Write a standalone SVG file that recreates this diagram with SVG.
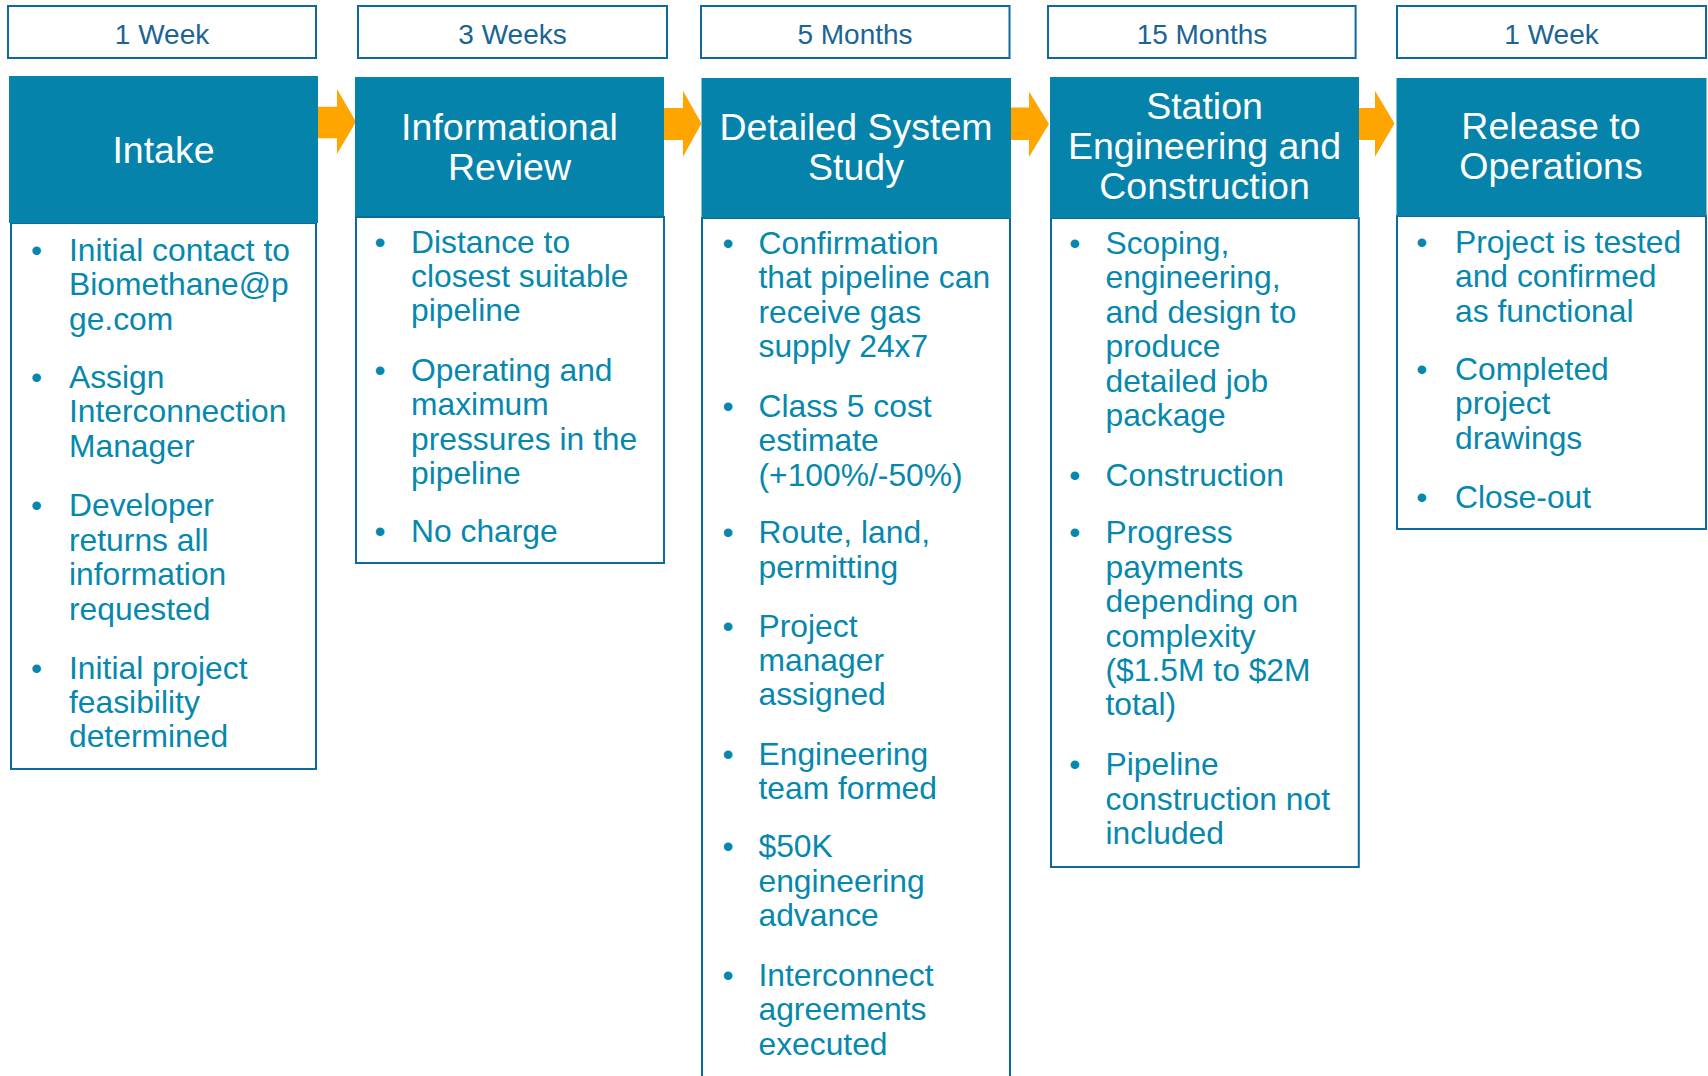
<svg xmlns="http://www.w3.org/2000/svg" width="1708" height="1076" viewBox="0 0 1708 1076">
<style>
.dur{fill:#fff;stroke:#0E6A9C;stroke-width:2}
.durt{font-family:"Liberation Sans",Arial,sans-serif;font-size:28px;fill:#1B6495;text-anchor:middle}
.box{fill:#fff;stroke:#0E6A9C;stroke-width:2}
.hdr{fill:#0583AB}
.hdrt{font-family:"Liberation Sans",Arial,sans-serif;font-size:37.5px;fill:#fff;text-anchor:middle}
.bt{font-family:"Liberation Sans",Arial,sans-serif;font-size:31.8px;fill:#0688AE}
.bu{font-family:"Liberation Sans",Arial,sans-serif;font-size:31.8px;fill:#0688AE;text-anchor:middle}
.arr{fill:#FFA500}
</style>
<rect width="1708" height="1076" fill="#fff"/>
<g id="connectors">
<polygon class="arr" points="318,106.7 337,106.7 337,89 356,121.7 337,154 337,138.3 318,138.3"/>
<polygon class="arr" points="664,108 683,108 683,90.7 701.5,123.5 683,156.7 683,140 664,140"/>
<polygon class="arr" points="1011,107.5 1029,107.5 1029,91.5 1049,124 1029,157 1029,140 1011,140"/>
<polygon class="arr" points="1359,108 1375,108 1375,90.7 1394.5,123.5 1375,156.7 1375,140 1359,140"/>
</g>
<g id="intake">
<rect class="dur" x="8" y="6" width="308" height="52"/>
<text class="durt" x="162" y="43.5">1 Week</text>
<rect class="box" x="11" y="223" width="305" height="546"/>
<rect class="hdr" x="9" y="76" width="309" height="147"/>
<text class="hdrt" x="163.5" y="162.5">Intake</text>
<text class="bu" x="36.6" y="261">•</text>
<text class="bt"><tspan x="69" y="261">Initial contact to</tspan><tspan x="69" y="295.4">Biomethane@p</tspan><tspan x="69" y="329.8">ge.com</tspan></text>
<text class="bu" x="36.6" y="388">•</text>
<text class="bt"><tspan x="69" y="388">Assign</tspan><tspan x="69" y="422.4">Interconnection</tspan><tspan x="69" y="456.8">Manager</tspan></text>
<text class="bu" x="36.6" y="516.4">•</text>
<text class="bt"><tspan x="69" y="516.4">Developer</tspan><tspan x="69" y="550.8">returns all</tspan><tspan x="69" y="585.2">information</tspan><tspan x="69" y="619.6">requested</tspan></text>
<text class="bu" x="36.6" y="678.6">•</text>
<text class="bt"><tspan x="69" y="678.6">Initial project</tspan><tspan x="69" y="713">feasibility</tspan><tspan x="69" y="747.4">determined</tspan></text>
</g>
<g id="informational-review">
<rect class="dur" x="358" y="6" width="309" height="52"/>
<text class="durt" x="512.5" y="43.5">3 Weeks</text>
<rect class="box" x="356" y="217" width="308" height="346"/>
<rect class="hdr" x="355" y="77" width="309" height="139"/>
<text class="hdrt"><tspan x="509.5" y="140">Informational</tspan><tspan x="509.5" y="180">Review</tspan></text>
<text class="bu" x="380" y="252.5">•</text>
<text class="bt"><tspan x="411" y="252.5">Distance to</tspan><tspan x="411" y="286.9">closest suitable</tspan><tspan x="411" y="321.3">pipeline</tspan></text>
<text class="bu" x="380" y="380.7">•</text>
<text class="bt"><tspan x="411" y="380.7">Operating and</tspan><tspan x="411" y="415.1">maximum</tspan><tspan x="411" y="449.5">pressures in the</tspan><tspan x="411" y="483.9">pipeline</tspan></text>
<text class="bu" x="380" y="542">•</text>
<text class="bt"><tspan x="411" y="542">No charge</tspan></text>
</g>
<g id="detailed-system-study">
<rect class="dur" x="701" y="6" width="308.5" height="52"/>
<text class="durt" x="855" y="43.5">5 Months</text>
<rect class="box" x="702" y="218" width="308" height="880"/>
<rect class="hdr" x="701.5" y="78" width="309.5" height="140"/>
<text class="hdrt"><tspan x="856" y="140">Detailed System</tspan><tspan x="856" y="180">Study</tspan></text>
<text class="bu" x="728" y="253.9">•</text>
<text class="bt"><tspan x="758.5" y="253.9">Confirmation</tspan><tspan x="758.5" y="288.3">that pipeline can</tspan><tspan x="758.5" y="322.7">receive gas</tspan><tspan x="758.5" y="357.1">supply 24x7</tspan></text>
<text class="bu" x="728" y="416.8">•</text>
<text class="bt"><tspan x="758.5" y="416.8">Class 5 cost</tspan><tspan x="758.5" y="451.2">estimate</tspan><tspan x="758.5" y="485.6">(+100%/-50%)</tspan></text>
<text class="bu" x="728" y="543.4">•</text>
<text class="bt"><tspan x="758.5" y="543.4">Route, land,</tspan><tspan x="758.5" y="577.8">permitting</tspan></text>
<text class="bu" x="728" y="636.6">•</text>
<text class="bt"><tspan x="758.5" y="636.6">Project</tspan><tspan x="758.5" y="671">manager</tspan><tspan x="758.5" y="705.4">assigned</tspan></text>
<text class="bu" x="728" y="765">•</text>
<text class="bt"><tspan x="758.5" y="765">Engineering</tspan><tspan x="758.5" y="799.4">team formed</tspan></text>
<text class="bu" x="728" y="857.4">•</text>
<text class="bt"><tspan x="758.5" y="857.4">$50K</tspan><tspan x="758.5" y="891.8">engineering</tspan><tspan x="758.5" y="926.2">advance</tspan></text>
<text class="bu" x="728" y="985.8">•</text>
<text class="bt"><tspan x="758.5" y="985.8">Interconnect</tspan><tspan x="758.5" y="1020.2">agreements</tspan><tspan x="758.5" y="1054.6">executed</tspan></text>
</g>
<g id="station-engineering">
<rect class="dur" x="1048" y="6" width="307.6" height="52"/>
<text class="durt" x="1202" y="43.5">15 Months</text>
<rect class="box" x="1051" y="218" width="307.8" height="649"/>
<rect class="hdr" x="1050" y="77" width="309" height="141"/>
<text class="hdrt"><tspan x="1204.5" y="119">Station</tspan><tspan x="1204.5" y="159">Engineering and</tspan><tspan x="1204.5" y="199">Construction</tspan></text>
<text class="bu" x="1074.8" y="254">•</text>
<text class="bt"><tspan x="1105.5" y="254">Scoping,</tspan><tspan x="1105.5" y="288.4">engineering,</tspan><tspan x="1105.5" y="322.8">and design to</tspan><tspan x="1105.5" y="357.2">produce</tspan><tspan x="1105.5" y="391.6">detailed job</tspan><tspan x="1105.5" y="426">package</tspan></text>
<text class="bu" x="1074.8" y="486">•</text>
<text class="bt"><tspan x="1105.5" y="486">Construction</tspan></text>
<text class="bu" x="1074.8" y="543.4">•</text>
<text class="bt"><tspan x="1105.5" y="543.4">Progress</tspan><tspan x="1105.5" y="577.8">payments</tspan><tspan x="1105.5" y="612.2">depending on</tspan><tspan x="1105.5" y="646.6">complexity</tspan><tspan x="1105.5" y="681">($1.5M to $2M</tspan><tspan x="1105.5" y="715.4">total)</tspan></text>
<text class="bu" x="1074.8" y="775.4">•</text>
<text class="bt"><tspan x="1105.5" y="775.4">Pipeline</tspan><tspan x="1105.5" y="809.8">construction not</tspan><tspan x="1105.5" y="844.2">included</tspan></text>
</g>
<g id="release-to-operations">
<rect class="dur" x="1397" y="6" width="309" height="52"/>
<text class="durt" x="1551.5" y="43.5">1 Week</text>
<rect class="box" x="1397" y="216" width="309" height="313"/>
<rect class="hdr" x="1396.5" y="78" width="310" height="138"/>
<text class="hdrt"><tspan x="1551" y="139">Release to</tspan><tspan x="1551" y="179">Operations</tspan></text>
<text class="bu" x="1421.7" y="253">•</text>
<text class="bt"><tspan x="1455" y="253">Project is tested</tspan><tspan x="1455" y="287.4">and confirmed</tspan><tspan x="1455" y="321.8">as functional</tspan></text>
<text class="bu" x="1421.7" y="380">•</text>
<text class="bt"><tspan x="1455" y="380">Completed</tspan><tspan x="1455" y="414.4">project</tspan><tspan x="1455" y="448.8">drawings</tspan></text>
<text class="bu" x="1421.7" y="508">•</text>
<text class="bt"><tspan x="1455" y="508">Close-out</tspan></text>
</g>
</svg>
